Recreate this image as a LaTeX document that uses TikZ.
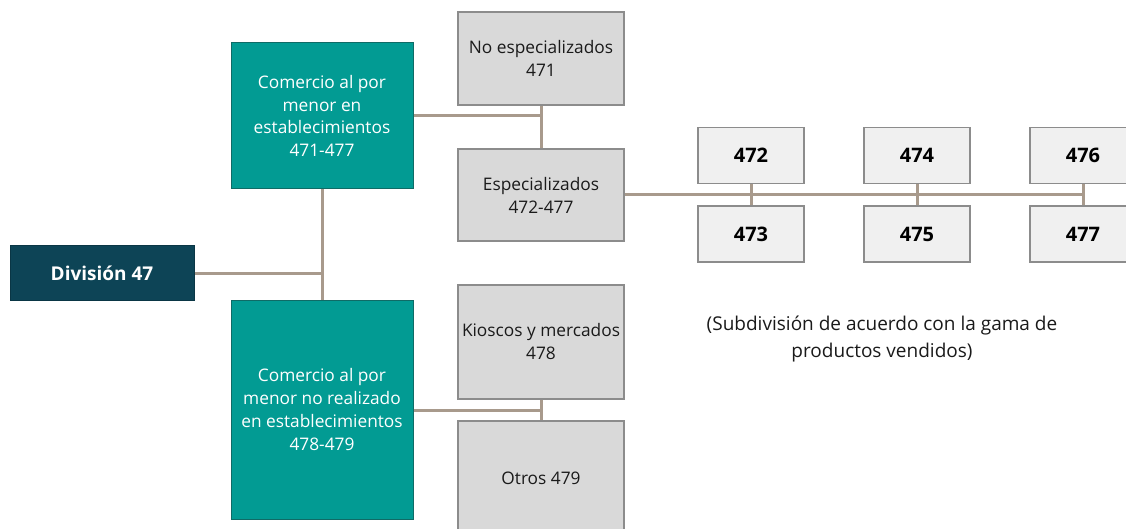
\documentclass[tikz,border=0pt]{standalone}
\usepackage{fontspec}
\setmainfont{Open Sans}
\definecolor{teal1}{HTML}{029B93}
\definecolor{tealb}{HTML}{0F6B66}
\definecolor{divc}{HTML}{0D4456}
\definecolor{grayf}{HTML}{D9D9D9}
\definecolor{grayl}{HTML}{F0F0F0}
\definecolor{grayb}{HTML}{8C8C8C}
\definecolor{conn}{HTML}{A89A8C}
\definecolor{txt}{HTML}{1A1A1A}
\tikzset{
  tealbox/.style={draw=tealb, line width=1pt, fill=teal1, text=white, align=center, inner sep=1pt,
    font=\fontsize{17.3}{22.7}\selectfont},
  divbox/.style={draw=divc!80!black, line width=1pt, fill=divc, text=white, align=center,
    font=\fontsize{19}{22}\selectfont\bfseries},
  graybox/.style={draw=grayb, line width=1.2pt, fill=grayf, text=txt, align=center, inner sep=1pt,
    font=\fontsize{17.3}{23}\selectfont},
  numbox/.style={draw=grayb, line width=1.2pt, fill=grayl, text=black, align=center,
    minimum width=106pt, minimum height=56pt, font=\fontsize{20}{22}\selectfont\bfseries},
  link/.style={draw=conn, line width=3pt},
  note/.style={text=txt, align=center, font=\fontsize{19}{27}\selectfont}
}
\begin{document}
\begin{tikzpicture}[x=1pt,y=-1pt]
\useasboundingbox (0,0) rectangle (1126,529);
\clip (0,0) rectangle (1126,529);
\coordinate (j1) at (322,273);
\coordinate (j2) at (541,116);
\coordinate (j3) at (541,410);
\coordinate (j4) at (1083,195);
% boxes
\node[divbox, minimum width=184pt, minimum height=54pt] (div) at (102,273) {División 47};
\node[tealbox, minimum width=182pt, minimum height=146pt] (t1) at (322,116) {Comercio al por\\menor en\\establecimientos\\471-477};
\node[tealbox, minimum width=182pt, minimum height=219pt] (t2) at (322,409.5) {Comercio al por\\menor no realizado\\en establecimientos\\478-479};
\node[graybox, minimum width=166pt, minimum height=93pt] (g1) at (541,58.5) {No especializados\\471};
\node[graybox, minimum width=166pt, minimum height=92pt] (g2) at (541,195) {Especializados\\472-477};
\node[graybox, minimum width=166pt, minimum height=114pt] (g3) at (541,342) {Kioscos y mercados\\478};
\node[graybox, minimum width=166pt, minimum height=114pt] (g4) at (541,478) {Otros 479};
\node[numbox] (n472) at (751,155.5) {472};
\node[numbox] (n473) at (751,234) {473};
\node[numbox] (n474) at (917,155.5) {474};
\node[numbox] (n475) at (917,234) {475};
\node[numbox] (n476) at (1083,155.5) {476};
\node[numbox] (n477) at (1083,234) {477};
\node[note] (note) at (882,339) {(Subdivisión de acuerdo con la gama de\\productos vendidos)};
% links
\draw[link] (div.east) -- (j1);
\draw[link] (t1.south) -- (t2.north);
\draw[link] (t1.east |- j2) -- (j2);
\draw[link] (g1.south) -- (g2.north);
\draw[link] (t2.east |- j3) -- (j3);
\draw[link] (g3.south) -- (g4.north);
\draw[link] (g2.east |- j4) -- (j4);
\draw[link] (n472.south) -- (n473.north);
\draw[link] (n474.south) -- (n475.north);
\draw[link] (n476.south) -- (n477.north);
\end{tikzpicture}
\end{document}
